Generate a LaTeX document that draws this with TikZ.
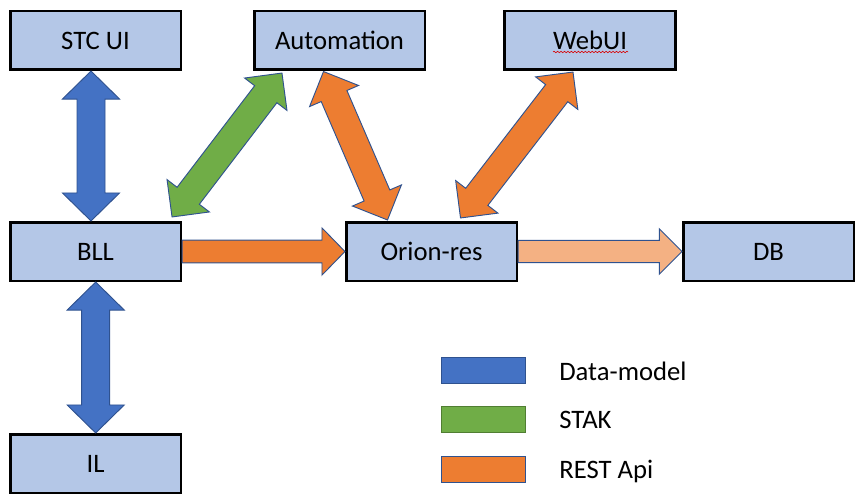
\documentclass[tikz,border=0pt]{standalone}
\usepackage{fontspec}
\setmainfont{Carlito}
\usetikzlibrary{calc,decorations.pathmorphing}
\definecolor{boxfill}{HTML}{B4C7E7}
\definecolor{accblue}{HTML}{4472C4}
\definecolor{outblue}{HTML}{2F528F}
\definecolor{accgreen}{HTML}{70AD47}
\definecolor{outgreen}{HTML}{507E32}
\definecolor{accorange}{HTML}{ED7D31}
\definecolor{lightorange}{HTML}{F4B183}
\newcommand{\dblarrow}[6]{%
  \coordinate (da1) at ($(#1)!#3!(#2)$);
  \coordinate (da2) at ($(#2)!#3!(#1)$);
  \filldraw[#6] (#1) -- ($(da1)!#4!90:(#2)$) -- ($(da1)!#5!90:(#2)$)
    -- ($(da2)!#5!-90:(#1)$) -- ($(da2)!#4!-90:(#1)$) -- (#2)
    -- ($(da2)!#4!90:(#1)$) -- ($(da2)!#5!90:(#1)$)
    -- ($(da1)!#5!-90:(#2)$) -- ($(da1)!#4!-90:(#2)$) -- cycle;
}
\newcommand{\sglarrow}[6]{%
  \coordinate (sa) at ($(#2)!#3!(#1)$);
  \filldraw[#6] ($(#1)!#5!90:(#2)$) -- ($(sa)!#5!-90:(#1)$) -- ($(sa)!#4!-90:(#1)$)
    -- (#2) -- ($(sa)!#4!90:(#1)$) -- ($(sa)!#5!90:(#1)$) -- ($(#1)!#5!-90:(#2)$) -- cycle;
}
\begin{document}
\begin{tikzpicture}[x=0.75pt,y=-0.75pt,
  box/.style={draw=black,fill=boxfill,line width=1.9pt,minimum width=127.9pt,
    minimum height=43.9pt,inner sep=0pt,font=\fontsize{20}{24}\selectfont,
    text height=12.9pt,text depth=0pt},
  legbox/.style={line width=1.2pt,minimum width=63pt,minimum height=19.5pt,inner sep=0pt},
  legtext/.style={anchor=west,inner sep=0pt,font=\fontsize{20}{24}\selectfont,
    text height=12.9pt,text depth=0pt},
  bluearr/.style={fill=accblue,draw=outblue,line width=0.7pt,line join=miter},
  greenarr/.style={fill=accgreen,draw=outblue,line width=0.7pt,line join=miter},
  orangearr/.style={fill=accorange,draw=outblue,line width=0.7pt,line join=miter},
  lightarr/.style={fill=lightorange,draw=outblue,line width=0.7pt,line join=miter}]
\useasboundingbox (0,0) rectangle (866,503);
% boxes
\node[box] (stc)   at (95.5,40.5)  {STC UI};
\node[box] (auto)  at (339.5,40.5) {Automation};
\node[box] (web)   at (590,40.5)   {WebUI};
\node[box] (bll)   at (95.5,251.5) {BLL};
\node[box] (orion) at (431.5,251.5) {Orion-res};
\node[box] (db)    at (768.5,251.5) {DB};
\node[box] (il)    at (95.5,463.5) {IL};
% spell-check squiggle
\coordinate (sq1) at ($(web.center)+(-37,11.5)$);
\coordinate (sq2) at ($(web.center)+(38,11.5)$);
\draw[red!85!black,line width=0.45pt,decorate,
  decoration={snake,segment length=2.6pt,amplitude=0.55pt}] (sq1) -- (sq2);
% arrow tips
\coordinate (t1a) at ($(stc.south)+(-4.5,0)$);
\coordinate (t1b) at ($(bll.north)+(-4.5,0)$);
\coordinate (t2a) at ($(bll.south)+(0.2,0)$);
\coordinate (t2b) at ($(il.north)+(0.2,0)$);
\coordinate (g1) at ($(bll.north east)+(-10,-4)$);
\coordinate (g2) at ($(auto.south west)+(29,2)$);
\coordinate (o1) at ($(auto.south)+(-16,0.5)$);
\coordinate (o2) at ($(orion.north)+(-44,-1)$);
\coordinate (o3) at ($(web.south)+(-17,1)$);
\coordinate (o4) at ($(orion.north)+(29,-3)$);
% arrows
\dblarrow{t1a}{t1b}{21pt}{21.4pt}{10.5pt}{bluearr}
\dblarrow{t2a}{t2b}{21pt}{21.4pt}{10.5pt}{bluearr}
\dblarrow{g1}{g2}{20pt}{20pt}{10.5pt}{greenarr}
\dblarrow{o1}{o2}{20pt}{20pt}{10.5pt}{orangearr}
\dblarrow{o3}{o4}{20pt}{20pt}{10.5pt}{orangearr}
\sglarrow{bll.east}{orion.west}{17.25pt}{17.7pt}{8.5pt}{orangearr}
\sglarrow{orion.east}{db.west}{17pt}{17pt}{8.3pt}{lightarr}
% legend
\node[legbox,fill=accblue,draw=outblue]     (lg1) at (483.5,370.5) {};
\node[legbox,fill=accgreen,draw=outgreen]   (lg2) at (483.5,419.5) {};
\node[legbox,fill=accorange,draw=outblue]   (lg3) at (483.5,469.5) {};
\node[legtext] (lt1) at (559,371.4) {Data-model};
\node[legtext] (lt2) at (559,419.7) {STAK};
\node[legtext] (lt3) at (559,469.7) {REST Api};
\end{tikzpicture}
\end{document}
